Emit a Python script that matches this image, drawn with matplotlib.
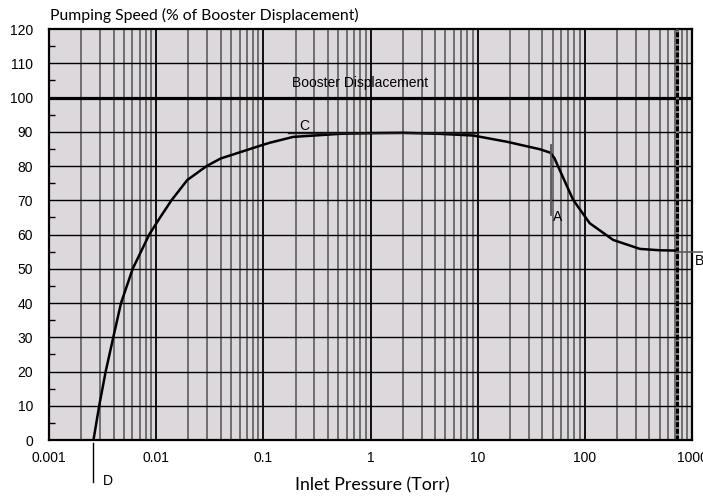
import numpy as np
import matplotlib
matplotlib.use("Agg")
import matplotlib.pyplot as plt
from matplotlib.ticker import FixedLocator, NullFormatter

# pumping speed curve
pressure = [0.0026, 0.00294, 0.00338, 0.00398, 0.0047, 0.00604, 0.00862, 0.0110, 0.0139,
            0.0195, 0.0296, 0.040, 0.0563, 0.095, 0.115, 0.19, 0.52, 1.0, 2.0, 4.4, 9.1,
            18.6, 38.0, 47.5, 52.0, 56.4, 77.8, 111.0, 184.0, 326.0, 500.0, 720.0]
speed = [0, 10, 20, 30, 40, 50, 60, 65.2, 70, 75.9, 80, 82.2, 83.7, 86.0, 86.8, 88.5,
         89.4, 89.6, 89.7, 89.4, 88.9, 87.1, 84.9, 83.9, 82.3, 79.8, 70.1, 63.3, 58.4,
         55.8, 55.4, 55.3]

x_ticks = [0.001, 0.01, 0.1, 1, 10, 100, 1000]
x_labels = ['0.001', '0.01', '0.1', '1', '10', '100', '1000']
y_ticks = list(range(0, 121, 10))
booster = 100
atm = 720

bg = '#ddd8dc'
tick_font = 'Liberation Sans'
title_font = 'Lato'

fig = plt.figure(figsize=(7.03, 4.96), dpi=100)
ax = fig.add_axes([0.0697, 0.1129, 0.9147, 0.8286])
ax.set_facecolor(bg)
ax.set_xscale('log')
ax.set_xlim(0.001, 1000)
ax.set_ylim(0, 120)

# grid: decade lines black, in-between lines grey
minors = [m * 10.0 ** e for e in range(-3, 3) for m in range(2, 10)]
for xm in minors:
    ax.axvline(xm, color='#666666', lw=1.3, zorder=1)
for xd in x_ticks[1:-1]:
    ax.axvline(xd, color='black', lw=1.3, zorder=1)
for yv in y_ticks[1:-1]:
    ax.axhline(yv, color='black', lw=1.0, zorder=1)

ax.set_xticks(x_ticks)
ax.set_xticklabels(x_labels, fontfamily=tick_font, fontsize=10)
ax.xaxis.set_minor_locator(FixedLocator(minors))
ax.xaxis.set_minor_formatter(NullFormatter())
ax.tick_params(axis='x', which='both', length=0, pad=8)
ax.set_yticks(y_ticks)
ax.set_yticklabels([str(v) for v in y_ticks], fontfamily=tick_font, fontsize=10)
ax.yaxis.set_minor_locator(FixedLocator(np.arange(5, 120, 10)))
ax.tick_params(axis='y', which='major', length=0, pad=11.5)
ax.tick_params(axis='y', which='minor', direction='in', length=4, width=1, color='black')
for s in ax.spines.values():
    s.set_linewidth(1.6)
    s.set_color('black')

# booster displacement line
ax.axhline(booster, color='black', lw=2.3, zorder=3)
ax.text(0.805, 103.2, 'Booster Displacement', fontfamily=tick_font, fontsize=10,
        ha='center', va='baseline')

# atmospheric pressure marker
ax.axvline(atm, color='#888888', lw=2.2, zorder=3)
ax.axvline(atm, color='black', lw=2.2, ls=(0, (1.6, 0.6)), zorder=3)

# curve
ax.plot(pressure, speed, color='black', lw=1.8, zorder=4, solid_joinstyle='round')

# reference marks A, B, C, D
ax.plot([48.3, 48.3], [65.7, 86.1], color='#555555', lw=1.3, zorder=4)
ax.text(50.3, 63.9, 'A', fontfamily=tick_font, fontsize=10, va='baseline', ha='left')
ax.plot([atm, 2000], [54.8, 54.8], color='#555555', lw=1.1, zorder=4, clip_on=False)
ax.text(1066, 51.1, 'B', fontfamily=tick_font, fontsize=10, va='baseline', ha='left')
ax.plot([0.17, 10], [89.6, 89.6], color='#222222', lw=1.0, zorder=4)
ax.text(0.239, 90.5, 'C', fontfamily=tick_font, fontsize=10, va='baseline', ha='center')
ax.plot([0.00259, 0.00259], [-0.9, -12.2], color='black', lw=1.0, clip_on=False)
ax.text(0.00317, -13.1, 'D', fontfamily=tick_font, fontsize=10, va='baseline', ha='left')

title = fig.text(50 / 703, 1 - 20 / 496, 'Pumping Speed (% of Booster Displacement)',
                 fontfamily=title_font, fontsize=11, va='baseline', ha='left')
xlab = fig.text(372 / 703, 1 - 490 / 496, 'Inlet Pressure (Torr)', fontfamily=title_font,
                fontsize=11, va='baseline', ha='center')

# scale the two headings so their widths match the chart
fig.canvas.draw()
r = fig.canvas.get_renderer()
for t, w in [(title, 308), (xlab, 154)]:
    t.set_fontsize(t.get_fontsize() * w / t.get_window_extent(r).width)

fig.savefig('out.png', dpi=100)
